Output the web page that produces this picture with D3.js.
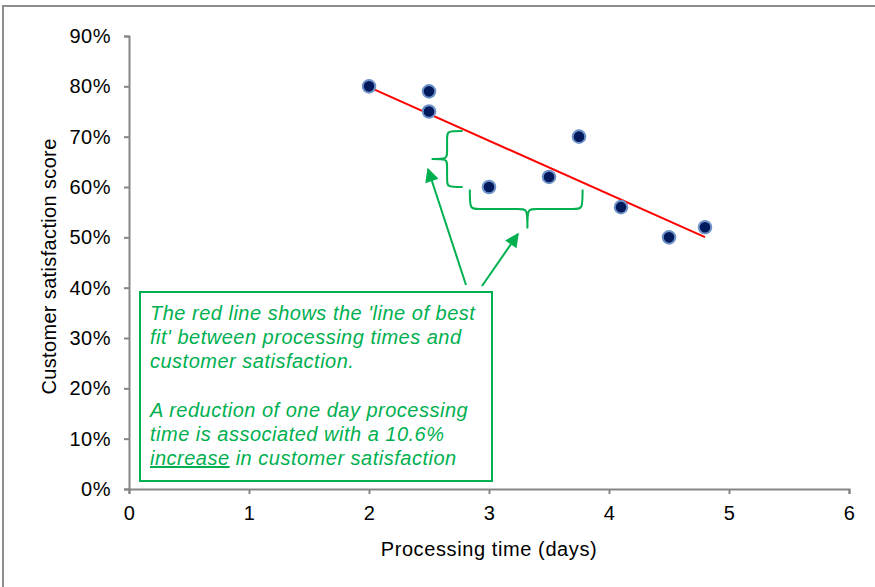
<!DOCTYPE html>
<html>
<head>
<meta charset="utf-8">
<script src="https://cdn.jsdelivr.net/npm/d3@7"></script>
<style>
  html, body { margin: 0; padding: 0; background: #fff; }
  svg { display: block; font-family: "Liberation Sans", Arial, sans-serif; }
</style>
</head>
<body>
<svg id="chart" width="875" height="587"></svg>
<script>
// Processing time (days) for each case and its customer satisfaction score
const processingDays = [2, 2.5, 2.5, 3, 3.5, 3.75, 4.1, 4.5, 4.8];
const satisfaction   = [0.80, 0.79, 0.75, 0.60, 0.62, 0.70, 0.56, 0.50, 0.52];

const xTicks = [0, 1, 2, 3, 4, 5, 6];
const yTicks = [0, 0.1, 0.2, 0.3, 0.4, 0.5, 0.6, 0.7, 0.8, 0.9];

const xTitle = "Processing time (days)";
const yTitle = "Customer satisfaction score";

const noteLines = [
  ["The red line shows the 'line of best"],
  ["fit' between processing times and"],
  ["customer satisfaction."],
  [""],
  ["A reduction of one day processing"],
  ["time is associated with a 10.6%"],
  ["increase", " in customer satisfaction"]
];

const svg = d3.select("#chart");
const green = "#00b050";
const axisGrey = "#868686";

// outer chart frame (runs past the right and bottom edges)
svg.append("rect")
  .attr("x", 3).attr("y", 6).attr("width", 900).attr("height", 620)
  .attr("fill", "none").attr("stroke", "#8c8c8c").attr("stroke-width", 2);

const x = d3.scaleLinear().domain([0, 6]).range([129, 849]);
const y = d3.scaleLinear().domain([0, 0.9]).range([489, 36]);

// axes
const xAxis = d3.axisBottom(x).tickValues(xTicks).tickSize(5).tickPadding(9)
  .tickFormat(d3.format("d"));
const yAxis = d3.axisLeft(y).tickValues(yTicks).tickSize(5).tickPadding(13)
  .tickFormat(d3.format(".0%"));

const gx = svg.append("g").attr("transform", `translate(0,${y(0)})`).call(xAxis);
const gy = svg.append("g").attr("transform", `translate(${x(0)},0)`).call(yAxis);
[gx, gy].forEach(g => {
  g.select(".domain").attr("stroke", axisGrey).attr("stroke-width", 2);
  g.selectAll(".tick line").attr("stroke", axisGrey).attr("stroke-width", 2);
  g.selectAll(".tick text").attr("fill", "#000")
    .style("font-family", "'Liberation Sans', Arial, sans-serif")
    .style("font-size", "20px")
    .style("letter-spacing", "0.5px");
});
gx.selectAll(".tick text").attr("dy", "0.85em");

svg.append("text")
  .attr("x", (x(0) + x(6)) / 2).attr("y", 556)
  .attr("text-anchor", "middle").attr("font-size", 20)
  .style("letter-spacing", "0.6px").text(xTitle);
svg.append("text")
  .attr("transform", `translate(56,${(y(0) + y(0.9)) / 2 + 4}) rotate(-90)`)
  .attr("text-anchor", "middle").attr("font-size", 20)
  .style("letter-spacing", "0.35px").text(yTitle);

// least-squares line of best fit
const n = processingDays.length;
const mx = d3.mean(processingDays), my = d3.mean(satisfaction);
let sxy = 0, sxx = 0;
for (let i = 0; i < n; i++) {
  sxy += (processingDays[i] - mx) * (satisfaction[i] - my);
  sxx += (processingDays[i] - mx) ** 2;
}
const slope = sxy / sxx;
const fit = d => my + slope * (d - mx);
const x0 = d3.min(processingDays), x1 = d3.max(processingDays);

svg.append("line")
  .attr("x1", x(x0)).attr("y1", y(fit(x0)))
  .attr("x2", x(x1)).attr("y2", y(fit(x1)))
  .attr("stroke", "#ff0000").attr("stroke-width", 2);

// data points
svg.append("g").selectAll("circle")
  .data(processingDays.map((d, i) => [d, satisfaction[i]]))
  .join("circle")
  .attr("cx", d => x(d[0])).attr("cy", d => y(d[1]))
  .attr("r", 6.3)
  .attr("fill", "#021a5c")
  .attr("stroke", "#6f93c9").attr("stroke-width", 2);

// curly braces: vertical gap (fit line to observed 60%) and one-day span
function braceV(xTip, yTop, yBot, depth) {
  const xm = xTip - depth * 0.5, xp = xTip - depth, ym = (yTop + yBot) / 2, c = 9;
  return `M${xTip},${yTop} C${xm},${yTop} ${xm},${yTop} ${xm},${yTop + c}` +
         ` L${xm},${ym - c} C${xm},${ym} ${xm},${ym} ${xp},${ym}` +
         ` C${xm},${ym} ${xm},${ym} ${xm},${ym + c}` +
         ` L${xm},${yBot - c} C${xm},${yBot} ${xm},${yBot} ${xTip},${yBot}`;
}
function braceH(yTip, xL, xR, depth, xMid) {
  const ym = yTip + depth * 0.5, yp = yTip + depth, c = 10;
  return `M${xL},${yTip} C${xL},${ym} ${xL},${ym} ${xL + c},${ym}` +
         ` L${xMid - c},${ym} C${xMid},${ym} ${xMid},${ym} ${xMid},${yp}` +
         ` C${xMid},${ym} ${xMid},${ym} ${xMid + c},${ym}` +
         ` L${xR - c},${ym} C${xR},${ym} ${xR},${ym} ${xR},${yTip}`;
}

const gapX = 2.78;
svg.append("path")
  .attr("d", braceV(x(gapX), y(fit(gapX)) + 2, y(0.60), 31))
  .attr("fill", "none").attr("stroke", green).attr("stroke-width", 2);
svg.append("path")
  .attr("d", braceH(y(0.595), x(2.84), x(3.78), 39, x(3.32)))
  .attr("fill", "none").attr("stroke", green).attr("stroke-width", 2);

// arrows from the note box to the braces
const defs = svg.append("defs");
defs.append("marker")
  .attr("id", "arrow").attr("viewBox", "0 0 10 10")
  .attr("refX", 9).attr("refY", 5)
  .attr("markerWidth", 8).attr("markerHeight", 7)
  .attr("markerUnits", "strokeWidth")
  .attr("orient", "auto")
  .append("path").attr("d", "M0,0 L10,5 L0,10 Z").attr("fill", green);

svg.append("line")
  .attr("x1", 466).attr("y1", 285).attr("x2", 428).attr("y2", 169)
  .attr("stroke", green).attr("stroke-width", 2).attr("marker-end", "url(#arrow)");
svg.append("line")
  .attr("x1", 482).attr("y1", 286).attr("x2", 518).attr("y2", 234)
  .attr("stroke", green).attr("stroke-width", 2).attr("marker-end", "url(#arrow)");

// note box
svg.append("rect")
  .attr("x", 140).attr("y", 292).attr("width", 352).attr("height", 189)
  .attr("fill", "#fff").attr("stroke", green).attr("stroke-width", 2);

const note = svg.append("text")
  .attr("font-size", 20).attr("font-style", "italic").attr("fill", green)
  .style("letter-spacing", "0.5px");
const baselines = [320, 344, 368, 392, 417, 441, 465];
noteLines.forEach((parts, i) => {
  if (!parts[0] && parts.length === 1) return;
  const t = note.append("tspan").attr("x", 150).attr("y", baselines[i]);
  parts.forEach((p, j) => {
    const s = t.append("tspan").text(p);
    if (i === noteLines.length - 1 && j === 0) s.attr("text-decoration", "underline");
  });
});
</script>
</body>
</html>
